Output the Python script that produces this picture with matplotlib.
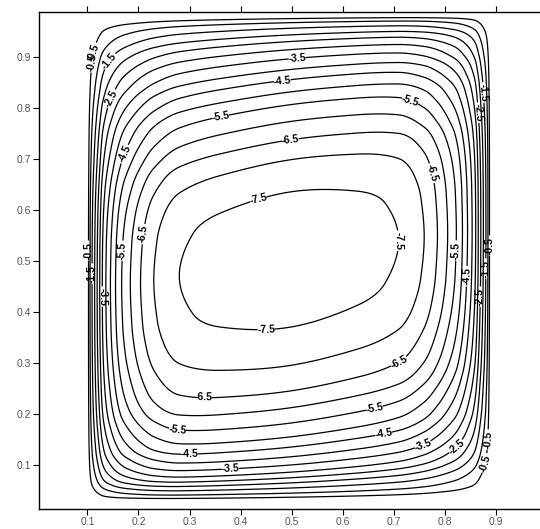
import numpy as np
import matplotlib
matplotlib.use("Agg")
import matplotlib.pyplot as plt

plt.rcParams['font.family'] = ['Liberation Sans', 'DejaVu Sans']

# contour levels of the stream function
levels = [-7.5, -7.0, -6.5, -6.0, -5.5, -5.0, -4.5, -4.0, -3.5, -3.0,
          -2.5, -2.0, -1.5, -1.0, -0.5]
label_levels = [-7.5, -6.5, -5.5, -4.5, -3.5, -2.5, -1.5, -0.5]

# |psi|, versus distance from each wall
psi_mag = [0.0, 0.5, 1.0, 1.5, 2.0, 2.5, 3.0, 3.5, 4.0, 4.5, 5.0, 5.5,
           6.0, 6.5, 7.0, 7.5, 7.7, 7.8]
side_dist = [0.0, 0.002, 0.005, 0.009, 0.014, 0.019, 0.024, 0.029, 0.036,
             0.045, 0.055, 0.067, 0.084, 0.104, 0.13, 0.18, 0.26, 0.395]
bottom_dist = [0.0, 0.012, 0.02, 0.03, 0.04, 0.05, 0.061, 0.075, 0.091,
               0.11, 0.13, 0.157, 0.187, 0.22, 0.27, 0.345, 0.40, 0.48]
top_dist = [0.0, 0.01, 0.018, 0.029, 0.042, 0.055, 0.071, 0.089, 0.11,
            0.13, 0.154, 0.179, 0.212, 0.248, 0.287, 0.35, 0.40, 0.48]

# cavity walls and tilt of the core
x_left, x_right = 0.1, 0.89
y_bot, y_top = 0.025, 0.985
tilt = 0.16
x_mid = 0.495

# approximate label spots
label_spots = [
    (0.511, 0.896), (0.482, 0.855), (0.361, 0.785), (0.498, 0.737),
    (0.739, 0.839),
    (0.104, 0.89), (0.114, 0.89), (0.15, 0.885), (0.16, 0.81), (0.165, 0.714),
    (0.198, 0.555), (0.165, 0.52), (0.104, 0.52), (0.112, 0.475),
    (0.13, 0.43),
    (0.445, 0.57), (0.45, 0.37), (0.725, 0.54),
    (0.755, 0.665), (0.83, 0.52), (0.845, 0.47), (0.866, 0.43),
    (0.886, 0.53), (0.879, 0.485), (0.872, 0.83), (0.86, 0.79),
    (0.327, 0.233), (0.70, 0.33), (0.661, 0.224), (0.276, 0.165),
    (0.68, 0.165), (0.30, 0.125), (0.76, 0.13), (0.38, 0.096),
    (0.83, 0.125), (0.876, 0.105), (0.884, 0.15),
]

xticks = [0.1, 0.2, 0.3, 0.4, 0.5, 0.6, 0.7, 0.8, 0.9]
yticks = [0.1, 0.2, 0.3, 0.4, 0.5, 0.6, 0.7, 0.8, 0.9]


def pchip(xk, yk, xq):
    xk = np.asarray(xk, float)
    yk = np.asarray(yk, float)
    h = np.diff(xk)
    delta = np.diff(yk) / h
    n = len(xk)
    d = np.zeros(n)
    for k in range(1, n - 1):
        if delta[k - 1] * delta[k] > 0:
            w1 = 2 * h[k] + h[k - 1]
            w2 = h[k] + 2 * h[k - 1]
            d[k] = (w1 + w2) / (w1 / delta[k - 1] + w2 / delta[k])
    d[0] = delta[0]
    d[-1] = delta[-1]
    i = np.clip(np.searchsorted(xk, xq) - 1, 0, n - 2)
    t = (xq - xk[i]) / h[i]
    h00 = 2 * t**3 - 3 * t**2 + 1
    h10 = t**3 - 2 * t**2 + t
    h01 = -2 * t**3 + 3 * t**2
    h11 = t**3 - t**2
    return h00 * yk[i] + h10 * h[i] * d[i] + h01 * yk[i + 1] + h11 * h[i] * d[i + 1]


def two_sided(dist_a, dist_b, width):
    knots = list(dist_a) + [width - v for v in dist_b[-2::-1]]
    vals = psi_mag + psi_mag[-2::-1]
    return knots, vals


W = x_right - x_left
H = y_top - y_bot
kx, vx = two_sided(side_dist, side_dist, W)
ky, vy = two_sided(bottom_dist, top_dist, H)

xs = np.linspace(x_left, x_right, 700)
ys = np.linspace(y_bot, y_top, 800)
X, Y = np.meshgrid(xs, ys)
eta = (Y - y_bot) / H
w = 1 - np.abs(2 * eta - 1) ** 4
Yc = Y - tilt * (X - x_mid) * w
F = pchip(kx, vx, np.clip(X - x_left, 0, W)) / psi_mag[-1]
G = pchip(ky, vy, np.clip(Yc - y_bot, 0, H)) / psi_mag[-1]
psi = -psi_mag[-1] * F * G

fig = plt.figure(figsize=(5.40, 5.29), dpi=100)
ax = fig.add_axes([39 / 540, 20 / 529, 501 / 540, 497 / 529])

other_levels = [l for l in levels if l not in label_levels]
ax.contour(X, Y, psi, levels=other_levels, colors='black', linewidths=0.9,
           linestyles='solid')
cs = ax.contour(X, Y, psi, levels=sorted(label_levels), colors='black',
                linewidths=0.9, linestyles='solid')
txts = ax.clabel(cs, fmt='%.1f', fontsize=7.5, inline=True,
                 inline_spacing=1.5, manual=label_spots)
for t in txts:
    t.set_fontweight('bold')

ax.set_xlim(0.005, 0.987)
ax.set_ylim(0.014, 0.988)
ax.set_xticks(xticks)
ax.set_yticks(yticks)
ax.set_xticklabels([f"{v:.1f}" for v in xticks])
ax.set_yticklabels([f"{v:.1f}" for v in yticks])
ax.tick_params(axis='both', direction='out', length=4, width=0.8,
               labelsize=7.5, labelcolor='#555555', pad=2)
ax.tick_params(axis='x', top=True)
ax.spines['right'].set_visible(False)
for s in ['left', 'bottom', 'top']:
    ax.spines[s].set_linewidth(1.0)

fig.savefig("out.png", dpi=100)
